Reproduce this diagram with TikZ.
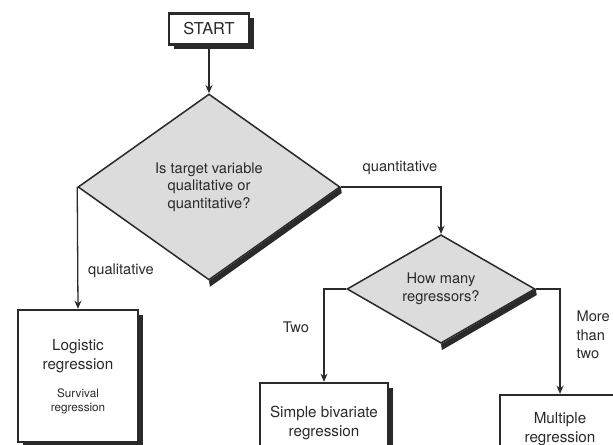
\documentclass[tikz,border=0pt]{standalone}
\usepackage{fontspec}
\setmainfont{TeX Gyre Heros}
\usetikzlibrary{shapes.geometric,shadows,arrows.meta}
\definecolor{ink}{HTML}{2A2A2A}
\definecolor{diafill}{HTML}{DCDCDC}
\tikzset{
  txt/.style={font=\fontsize{12.5}{15}\selectfont, text=ink, align=center},
  box/.style={txt, font=\fontsize{13}{16}\selectfont, draw=ink, line width=2pt, fill=white, inner sep=0pt,
    drop shadow={shadow xshift=0.14cm, shadow yshift=-0.14cm, opacity=1, fill=ink}},
  decision/.style={txt, diamond, draw=ink, line width=1.3pt, fill=diafill, inner sep=0pt},
}
\begin{document}
\begin{tikzpicture}[x=0.03cm, y=-0.03cm, >={Stealth[length=7pt,width=6pt]}, line width=1.1pt, color=ink]
			\useasboundingbox (0,0) rectangle (613,444);
			\clip (0,0) rectangle (613,444);

			\node[box, font=\fontsize{14}{16}\selectfont, minimum width=2.4cm, minimum height=0.93cm] (start) at (209,29) {START};

			\node[decision, minimum width=7.86cm, minimum height=5.58cm] (target) at (209,187) {Is target variable\\qualitative or\\quantitative?};
			\fill[ink] (target.east) -- ([shift={(1,6)}]target.east) -- ([shift={(1,6)}]target.south) -- (target.south) -- cycle;

			\node[decision, minimum width=5.64cm, minimum height=3.12cm] (howmany) at (441,289) {How many\\regressors?};
			\fill[ink] (howmany.east) -- ([shift={(1,6)}]howmany.east) -- ([shift={(1,6)}]howmany.south) -- (howmany.south) -- cycle;

			\node[box, minimum width=3.6cm, minimum height=3.96cm] (logistic) at (78,376) {};
			\node[txt, font=\fontsize{13}{16}\selectfont] (logisticlbl) at (78,356) {Logistic\\regression};
			\node[txt, font=\fontsize{10}{12}\selectfont] (survivallbl) at (78,401) {Survival\\regression};

			\node[box, minimum width=3.84cm, minimum height=2.4cm] (simple) at (324,423) {Simple bivariate\\regression};
			\node[box, minimum width=3.6cm, minimum height=2.04cm] (multiple) at (560,429) {Multiple\\regression};

			\draw [->] (start) -- (target);
			\draw [->] (target.west) -- (logistic.north);
			\draw [->] (target.east) -| (howmany.north);
			\draw [->] (howmany.west) -| (simple.north);
			\draw [->] (howmany.east) -| (multiple.north);

			\node[txt] (qual) at (121,271) {qualitative};
			\node[txt] (quant) at (400,168) {quantitative};
			\node[txt] (two) at (296,327) {Two};
			\node[txt, align=left, anchor=west, font=\fontsize{12.5}{16}\selectfont] (morethan) at (572,335) {More\\than\\two};
		\end{tikzpicture}
\end{document}
